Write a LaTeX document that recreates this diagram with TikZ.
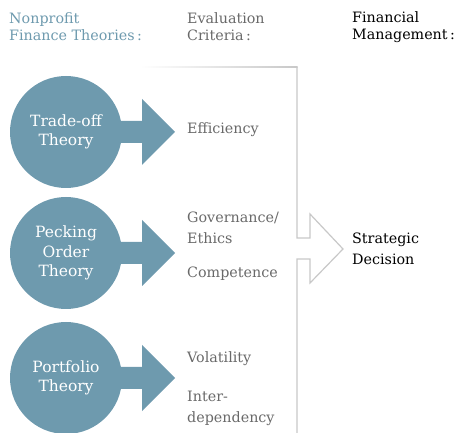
\documentclass[tikz,border=0pt]{standalone}
\usepackage{fontspec}
\setmainfont{DejaVu Serif}
\definecolor{theoblue}{RGB}{110,154,174}
\definecolor{critgray}{RGB}{105,105,105}
\definecolor{framegray}{RGB}{200,200,200}
\tikzset{
  theory/.style={circle, fill=theoblue, text=white, minimum size=112pt, inner sep=0pt, align=center, font=\fontsize{15.5}{19.5}\selectfont},
  crit/.style={anchor=west, text=critgray, align=left, inner sep=0pt, font=\fontsize{14.3}{21}\selectfont},
  head/.style={anchor=west, align=left, inner sep=0pt, font=\fontsize{14.3}{17}\selectfont},
  frame/.style={draw=framegray, line width=1.2pt, line join=miter}
}
\begin{document}
\begin{tikzpicture}[x=1pt, y=-1pt]
  \useasboundingbox (0,0) rectangle (456,433);
  % column headings
  \node[head, text=theoblue] (hfin) at (9,27) {Nonprofit\\Finance Theories\,:};
  \node[head, text=critgray] (heval) at (187,27) {Evaluation\\Criteria\,:};
  \node[head] (hman) at (352,27) {Financial\\Management\,:};
  % big outline arrow, top line fades out to the left
  \shade[left color=white, right color=framegray] (140,66.4) rectangle (297.6,67.6);
  \draw[frame] (297,67) -- (297,238) -- (310,238) -- (310,214) -- (343,249)
    -- (310,283) -- (310,259) -- (297,259) -- (297,433);
  \node[crit, text=black] (dec) at (352,249) {Strategic\\Decision};
  % theory circles with block arrows
  \foreach \name/\y/\txt in {trade/132/{Trade-off\\Theory}, peck/253/{Pecking\\Order\\Theory}, port/378/{Portfolio\\Theory}}{
    \fill[theoblue] (100,\y-11) -- (142,\y-11) -- (142,\y-33) -- (175,\y)
      -- (142,\y+33) -- (142,\y+11) -- (100,\y+11) -- cycle;
    \node[theory] (\name) at (66,\y) {\txt};
  }
  % evaluation criteria
  \node[crit] (eff) at (187,130) {Efficiency};
  \node[crit] (gov) at (187,228) {Governance/\\Ethics};
  \node[crit] (comp) at (187,274) {Competence};
  \node[crit] (vol) at (187,359) {Volatility};
  \node[crit] (inter) at (187,408) {Inter-\\dependency};
\end{tikzpicture}
\end{document}
